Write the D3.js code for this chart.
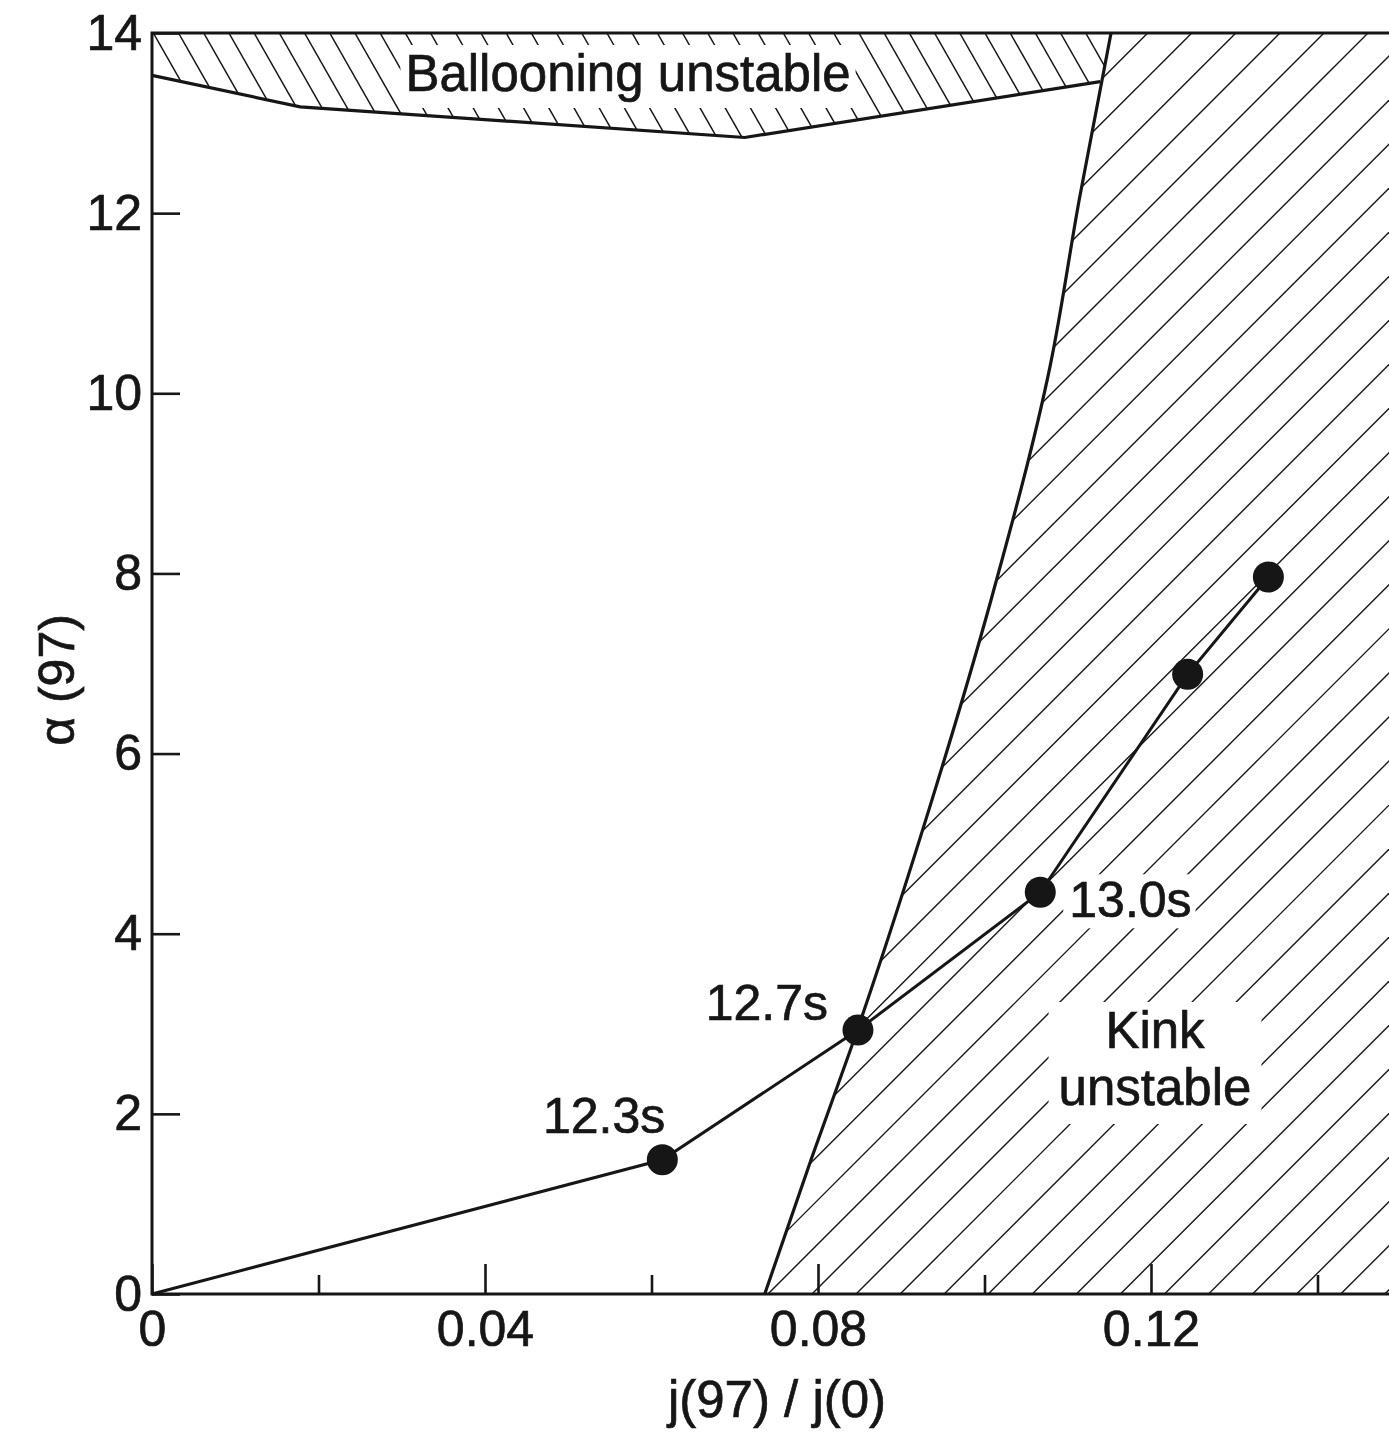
<!DOCTYPE html>
<html>
<head>
<meta charset="utf-8">
<script src="https://cdn.jsdelivr.net/npm/d3@7/dist/d3.min.js"></script>
<style>
  html, body { margin: 0; padding: 0; background: #fff; }
  svg { display: block; }
  text { font-family: "Liberation Sans", Arial, Helvetica, sans-serif; fill: #161616;
         stroke: #161616; stroke-width: 0.7px; }
</style>
</head>
<body>
<svg id="chart" width="1389" height="1435"></svg>
<script>
// Trajectory of the discharge in the (j(97)/j(0), alpha(97)) plane
const trajX = [0, 0.0613, 0.0848, 0.1067, 0.1244, 0.1341];
const trajY = [0, 1.49, 2.93, 4.46, 6.88, 7.96];
const trajLabels = ["", "12.3s", "12.7s", "13.0s", "", ""];

// Kink stability boundary
const kinkX = [0.0736, 0.0793, 0.0839, 0.0937, 0.1008, 0.1079, 0.1114, 0.1152];
const kinkY = [0, 1.526, 2.711, 5.489, 7.711, 10.31, 12.16, 14];

// Ballooning stability boundary
const ballX = [0, 0.0178, 0.0712, 0.1139];
const ballY = [13.53, 13.18, 12.84, 13.46];

// Axis ticks
const xMajor = [0, 0.04, 0.08, 0.12];
const xMinor = [0.02, 0.06, 0.10, 0.14];
const xTickLabels = ["0", "0.04", "0.08", "0.12"];
const yMajor = [0, 2, 4, 6, 8, 10, 12, 14];
const yTickLabels = ["0", "2", "4", "6", "8", "10", "12", "14"];

const ink = "#161616";
const svg = d3.select("#chart");
const mLeft = 152, mTop = 33, mBottom = 1294;
const xMax = 0.15, yMax = 14;
const x = d3.scaleLinear().domain([0, xMax]).range([mLeft, mLeft + xMax * 8325]);
const y = d3.scaleLinear().domain([0, yMax]).range([mBottom, mTop]);
const mRight = x(xMax);

const kinkPts = kinkX.map((v, i) => [v, kinkY[i]]);
const ballPts = ballX.map((v, i) => [v, ballY[i]]);
const trajPts = trajX.map((v, i) => [v, trajY[i]]);
const line = d3.line().x(d => x(d[0])).y(d => y(d[1]));
const smooth = d3.line().x(d => x(d[0])).y(d => y(d[1])).curve(d3.curveMonotoneY);
const kinkPath = smooth(kinkPts);

// Unstable regions, used as clip paths for the hatching
const defs = svg.append("defs");
defs.append("clipPath").attr("id", "clip-kink")
  .append("path")
  .attr("d", kinkPath + `L${x(xMax)},${y(yMax)}L${x(xMax)},${y(0)}Z`);
// ballooning region: above its boundary, left of the kink boundary
const kinkTop = kinkPts.filter(p => p[1] > ballY[ballY.length - 1]);
const ballRegion = [[0, yMax]].concat(ballPts, kinkTop);
defs.append("clipPath").attr("id", "clip-ball")
  .append("path").attr("d", line(ballRegion) + "Z");

// Hatching for the kink-unstable region: lines rising at 45 degrees
const gK = svg.append("g").attr("clip-path", "url(#clip-kink)");
const kStep = 44.06, kPhase = 2106;
for (let c = kPhase - kStep * 40; c < kPhase + kStep * 40; c += kStep) {
  gK.append("line")
    .attr("x1", c - mTop).attr("y1", mTop)
    .attr("x2", c - mBottom).attr("y2", mBottom)
    .attr("stroke", ink).attr("stroke-width", 1.4);
}

// Hatching for the ballooning-unstable region: lines falling at ~60 degrees
const gB = svg.append("g").attr("clip-path", "url(#clip-ball)");
const bStep = 25.2, bPhase = 153.3, bSlope = 0.57;
for (let c = bPhase - bStep * 10; c < 1400; c += bStep) {
  gB.append("line")
    .attr("x1", c).attr("y1", mTop)
    .attr("x2", c + bSlope * 200).attr("y2", mTop + 200)
    .attr("stroke", ink).attr("stroke-width", 1.5);
}

// Labels with a white backing that interrupts the hatching
function boxedText(lines, cx, baseline, lineGap, padX, padTop, padBot) {
  const g = svg.append("g");
  const rect = g.append("rect").attr("fill", "#fff");
  const t = g.append("text").attr("text-anchor", "middle")
    .attr("font-size", 51);
  lines.forEach((s, i) => {
    t.append("tspan").attr("x", cx).attr("y", baseline + i * lineGap).text(s);
  });
  const b = t.node().getBBox();
  rect.attr("x", b.x - padX).attr("y", b.y - padTop)
    .attr("width", b.width + 2 * padX).attr("height", b.height + padTop + padBot);
  return g;
}

// Stability boundaries
svg.append("path").attr("d", kinkPath).attr("fill", "none")
  .attr("stroke", ink).attr("stroke-width", 3.2);
svg.append("path").attr("d", line(ballPts)).attr("fill", "none")
  .attr("stroke", ink).attr("stroke-width", 3.2);

boxedText(["Ballooning unstable"], 628, 91, 0, 5, 0, 6);
boxedText(["Kink", "unstable"], 1155, 1048, 57, 10, 0, 8);

// Axes: ticks point into the plot
const fmtX = d => xTickLabels[xMajor.indexOf(d)];
const fmtY = d => yTickLabels[yMajor.indexOf(d)];

const gxMinor = svg.append("g").attr("transform", `translate(0,${mBottom})`)
  .call(d3.axisBottom(x).tickValues(xMinor).tickSize(-19).tickSizeOuter(0).tickFormat(""));
gxMinor.select(".domain").remove();
gxMinor.selectAll(".tick line").attr("stroke", ink).attr("stroke-width", 2.6);

const gx = svg.append("g").attr("transform", `translate(0,${mBottom})`)
  .call(d3.axisBottom(x).tickValues(xMajor).tickSize(-30).tickSizeOuter(0)
    .tickPadding(16).tickFormat(fmtX));
gx.select(".domain").remove();
gx.selectAll(".tick line").attr("stroke", ink).attr("stroke-width", 2.6);
gx.selectAll(".tick text").attr("font-size", 50).attr("fill", ink)
  .attr("font-family", "Liberation Sans, Arial, sans-serif");

const gy = svg.append("g").attr("transform", `translate(${mLeft},0)`)
  .call(d3.axisLeft(y).tickValues(yMajor).tickSize(-28).tickSizeOuter(0)
    .tickPadding(10).tickFormat(fmtY));
gy.select(".domain").remove();
gy.selectAll(".tick line").attr("stroke", ink).attr("stroke-width", 2.6);
gy.selectAll(".tick text").attr("font-size", 50).attr("fill", ink)
  .attr("font-family", "Liberation Sans, Arial, sans-serif");

// Plot frame
svg.append("path")
  .attr("d", `M${mRight},${mTop}H${mLeft}V${mBottom}H${mRight}`)
  .attr("fill", "none").attr("stroke", ink).attr("stroke-width", 3);

// 13.0s label sits inside the hatching, so it gets a white backing
const lab13 = 3;
{
  const g = svg.append("g");
  const rect = g.append("rect").attr("fill", "#fff");
  const t = g.append("text").attr("font-size", 50)
    .attr("x", x(trajX[lab13]) + 29).attr("y", y(trajY[lab13]) + 25)
    .text(trajLabels[lab13]);
  const b = t.node().getBBox();
  rect.attr("x", b.x - 6).attr("y", b.y + 2).attr("width", b.width + 10).attr("height", b.height - 2);
}

// Trajectory
svg.append("path").attr("d", line(trajPts)).attr("fill", "none")
  .attr("stroke", ink).attr("stroke-width", 3);
svg.selectAll("circle.pt").data(trajPts.slice(1)).join("circle")
  .attr("class", "pt")
  .attr("cx", d => x(d[0])).attr("cy", d => y(d[1])).attr("r", 15.5)
  .attr("fill", ink);

// Time labels left of and above the earlier points
[1, 2].forEach(i => {
  svg.append("text").attr("font-size", 50).attr("text-anchor", "end")
    .attr("x", x(trajX[i]) - 30 + (i === 1 ? 33 : 0))
    .attr("y", y(trajY[i]) - (i === 1 ? 27 : 10))
    .text(trajLabels[i]);
});

// Axis titles
svg.append("text").attr("font-size", 51).attr("text-anchor", "middle")
  .attr("x", 777).attr("y", 1417).text("j(97) / j(0)");
svg.append("text").attr("font-size", 50).attr("text-anchor", "middle")
  .attr("transform", "translate(74,680) rotate(-90)").text("α (97)");
</script>
</body>
</html>
